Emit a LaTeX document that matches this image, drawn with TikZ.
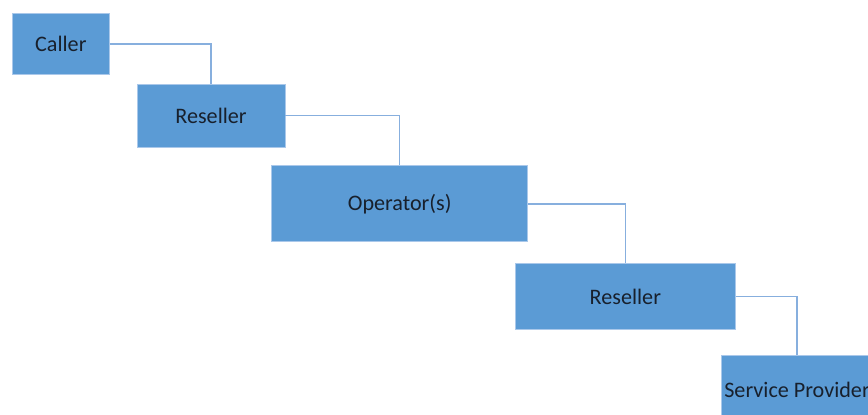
\documentclass[tikz,border=0pt]{standalone}
\usepackage{fontspec}
\setmainfont{Carlito}
\usepackage{tikz}
\usetikzlibrary{positioning}

\definecolor{boxblue}{RGB}{91,155,213}
\definecolor{edgeblue}{RGB}{170,200,234}
\definecolor{lineblue}{RGB}{135,175,222}
\definecolor{textdark}{RGB}{24,32,44}

\begin{document}
\begin{tikzpicture}[
                            x=0.02cm,
                            y=-0.02cm,
                            node distance=0.4cm,
                            semithick
                        ]
                        \tikzstyle{box}=[rectangle,fill=boxblue,draw=edgeblue,line width=0.4pt,text=textdark,font=\fontsize{12.6}{14}\selectfont,inner sep=0pt]
                        \tikzstyle{link}=[draw=lineblue,line width=0.9pt]

                        \clip (0,0) rectangle (868,414);

                        \node[box,minimum width=1.94cm,minimum height=1.22cm,anchor=north west] (caller) at (12,13) {Caller};
                        \node[box,minimum width=2.96cm,minimum height=1.26cm] (resA) [below right=0.18cm and 0.54cm of caller] {Reseller};
                        \node[box,minimum width=5.12cm,minimum height=1.52cm] (oper) [below right=0.36cm and -0.28cm of resA] {Operator(s)};
                        \node[box,minimum width=4.40cm,minimum height=1.32cm] (resB) [below right=0.42cm and -0.26cm of oper] {Reseller};
                        \node[box,minimum width=3.04cm,minimum height=1.40cm] (prov) [below right=0.50cm and -0.30cm of resB] {Service Provider};

                        \path[link]
                        (caller.east) -| (resA.north)
                        (resA.east)   -| (oper.north)
                        (oper.east)   -| (resB.north)
                        (resB.east)   -| (prov.north)
                        ;
                    \end{tikzpicture}
\end{document}
